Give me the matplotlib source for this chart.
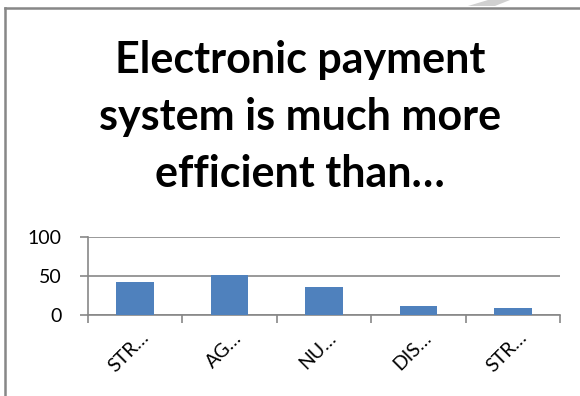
import matplotlib.pyplot as plt
from matplotlib.patches import Polygon
from matplotlib.transforms import ScaledTranslation

# Data
categories = ["STR…", "AG…", "NU…", "DIS…", "STR…"]
values = [42, 51, 36, 12, 9]
yticks = [0, 50, 100]

title_lines = ["Electronic payment", "system is much more", "efficient than…"]

plt.rcParams['font.family'] = ['Lato', 'DejaVu Sans']

W, H = 580, 396
fig = plt.figure(figsize=(W / 100, H / 100), dpi=100)

# chart frame (left + top border only visible)
fig.add_artist(plt.Line2D([5 / W, 5 / W], [0, 1 - 8 / H], color='#878787', lw=1.8))
fig.add_artist(plt.Line2D([5 / W, 1], [1 - 8 / H, 1 - 8 / H], color='#878787', lw=1.8))
# faint watermark piece at the top
fig.add_artist(Polygon([(468 / W, 1 - 6 / H), (488 / W, 1), (510 / W, 1), (495 / W, 1 - 6 / H)],
                       closed=True, color='#d0d0d0', lw=0))

# title, one line at a time (baselines ~57px apart)
for i, line in enumerate(title_lines):
    fig.text(300 / W, 1 - (73 + 57 * i) / H, line, ha='center', va='baseline',
             fontsize=31, fontweight='bold')

ax = fig.add_axes([88 / W, 1 - 315 / H, (560 - 88) / W, (315 - 237) / H])
x = list(range(len(categories)))
ax.bar(x, values, width=0.4, color='#4F81BD', zorder=3)
ax.set_xlim(-0.5, len(categories) - 0.5)
ax.set_ylim(0, 100)
ax.set_yticks(yticks)
ax.tick_params(axis='y', labelsize=14, length=6, width=1.2, color='#878787', pad=13)
ax.yaxis.grid(True, color='#878787', lw=1.2, zorder=0)

ax.set_xticks([i - 0.5 for i in range(len(categories) + 1)])
ax.set_xticklabels([])
ax.tick_params(axis='x', length=6, width=1.2, color='#878787')
ax.set_xticks(x, minor=True)
ax.set_xticklabels(categories, minor=True, rotation=45, ha='center', va='top',
                   fontsize=14)
ax.tick_params(axis='x', which='minor', length=0, pad=10)
shift = ScaledTranslation(-6 / 100, 0, fig.dpi_scale_trans)
for lab in ax.get_xticklabels(minor=True):
    lab.set_transform(lab.get_transform() + shift)

for s in ['top', 'right']:
    ax.spines[s].set_visible(False)
for s in ['left', 'bottom']:
    ax.spines[s].set_color('#878787')
    ax.spines[s].set_linewidth(1.2)

fig.savefig('out.png', dpi=100)
